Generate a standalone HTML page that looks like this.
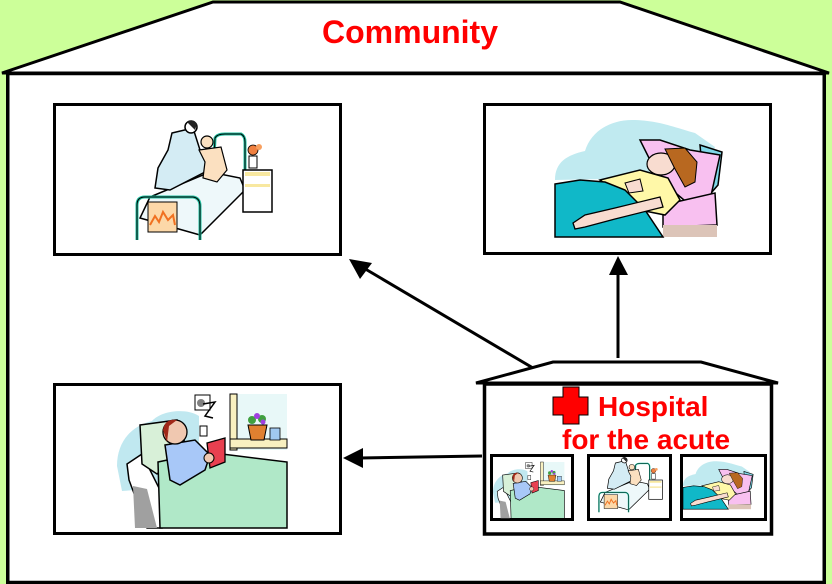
<!DOCTYPE html>
<html><head><meta charset="utf-8"><style>
html,body{margin:0;padding:0;background:#ccff99;}
svg{display:block;}
text{font-family:"Liberation Sans",Arial,sans-serif;font-weight:bold;fill:#ff0000;}
</style></head><body>
<svg width="832" height="584" viewBox="0 0 832 584" xmlns="http://www.w3.org/2000/svg">
<defs>
 <g id="doctor">
  <path d="M78,60 L80,18 Q82,14 90,14 L106,14 Q110,16 110,22 L110,58" fill="#fff" stroke="#20c0a0" stroke-width="3"/>
  <path d="M78,60 L80,18 Q82,14 90,14 L106,14 Q110,16 110,22 L110,58" fill="none" stroke="#000" stroke-width="1"/>
  <path d="M15,77 L75,52 L105,58 L110,70 L65,115 L5,98 Z" fill="#eef8fa" stroke="#000" stroke-width="1.5"/>
  <path d="M37,13 L58,8 L65,30 L80,45 L70,52 L35,70 L20,68 L23,48 L33,30 Z" fill="#d4ecf4" stroke="#000" stroke-width="1.5"/>
  <circle cx="56" cy="7" r="6" fill="#fff" stroke="#000" stroke-width="1.5"/>
  <path d="M52,2 Q58,-2 62,4 L60,10 Z" fill="#222"/>
  <circle cx="72" cy="22" r="6" fill="#fbe0c0" stroke="#000" stroke-width="1.2"/>
  <path d="M64,30 L86,27 L92,50 L82,62 L68,58 L70,42 Z" fill="#fbe0c0" stroke="#000" stroke-width="1.2"/>
  <path d="M2,120 L2,85 Q2,77 10,77 L58,77 Q65,78 65,86 L65,120" fill="none" stroke="#20c0a0" stroke-width="3"/>
  <path d="M2,120 L2,85 Q2,77 10,77 L58,77 Q65,78 65,86 L65,120" fill="none" stroke="#000" stroke-width="1"/>
  <rect x="13" y="82" width="29" height="30" fill="#fcd8a8" stroke="#000" stroke-width="1"/>
  <path d="M15,105 L20,96 L24,102 L28,92 L33,100 L38,95 L40,105" fill="none" stroke="#f07020" stroke-width="2"/>
  <rect x="108" y="50" width="29" height="42" fill="#fff" stroke="#000" stroke-width="1.5"/>
  <rect x="110" y="52" width="25" height="4" fill="#f8e8a0"/>
  <rect x="110" y="64" width="25" height="3" fill="#f8e8a0"/>
  <rect x="114" y="36" width="8" height="12" fill="#fff" stroke="#000" stroke-width="1"/>
  <circle cx="118" cy="30" r="5" fill="#f08040" stroke="#000" stroke-width="0.8"/>
  <circle cx="124" cy="27" r="3" fill="#f8a060"/>
 </g>
 <g id="woman">
  <path d="M0,63 C0,45 12,38 30,34 C36,14 56,2 80,3 C105,4 118,10 140,16 L160,30 L150,60 L0,63 Z" fill="#c0eaf0"/>
  <path d="M145,28 L167,35 L163,68 L150,83 Z" fill="#80d8e8" stroke="#000" stroke-width="1.5"/>
  <path d="M85,23 L105,23 L135,33 L165,38 L155,83 L135,88 L105,63 Z" fill="#f8c0f0" stroke="#000" stroke-width="1.5"/>
  <path d="M108,88 L160,76 L162,108 L108,110 Z" fill="#f8c0f0" stroke="#000" stroke-width="1.5"/>
  <rect x="108" y="108" width="54" height="12" fill="#dcc4b8"/>
  <path d="M45,63 L85,53 L113,61 L125,83 L110,98 L85,93 Z" fill="#fff8a8" stroke="#000" stroke-width="1.5"/>
  <ellipse cx="106" cy="47" rx="14" ry="11" fill="#f8dcd0" stroke="#000" stroke-width="1.2"/>
  <path d="M110,32 L130,31 L142,45 L140,65 L130,70 L120,52 Z" fill="#b86820" stroke="#000" stroke-width="1"/>
  <path d="M0,67 L25,63 L50,65 L70,73 L90,93 L108,120 L0,120 Z" fill="#10b8c8" stroke="#000" stroke-width="1.5"/>
  <path d="M18,106 L30,98 L60,91 L105,80 L108,90 L60,102 L30,110 L20,112 Z" fill="#f8dcd0" stroke="#000" stroke-width="1.3"/>
  <path d="M70,66 L85,62 L88,74 L74,76 Z" fill="#f8dcd0" stroke="#000" stroke-width="1"/>
 </g>
 <g id="man">
  <path d="M0,72 C0,48 14,32 35,27 C45,16 70,14 82,22 L82,92 L5,97 Z" fill="#c0e8f0"/>
  <rect x="113" y="0" width="57" height="56" fill="#e8f8f8"/>
  <rect x="113" y="0" width="7" height="56" fill="#f8f0c0" stroke="#000" stroke-width="1"/>
  <rect x="113" y="45" width="57" height="9" fill="#f8f0c0" stroke="#000" stroke-width="1"/>
  <path d="M131,31 L150,31 L147,46 L134,46 Z" fill="#e08030" stroke="#000" stroke-width="1"/>
  <circle cx="135" cy="26" r="4" fill="#40a040"/><circle cx="145" cy="25" r="4" fill="#40a040"/>
  <circle cx="140" cy="22" r="3" fill="#a040e0"/><circle cx="146" cy="28" r="2.5" fill="#a040e0"/>
  <rect x="153" y="34" width="10" height="12" fill="#a0c8f0" stroke="#000" stroke-width="0.8"/>
  <rect x="78" y="1" width="15" height="15" fill="#fff" stroke="#000" stroke-width="1"/>
  <circle cx="84" cy="9" r="4" fill="#808080"/>
  <path d="M86,10 L98,8 L88,22 L96,24" fill="none" stroke="#000" stroke-width="1.5"/>
  <rect x="83" y="32" width="7" height="10" fill="#fff" stroke="#000" stroke-width="1"/>
  <path d="M10,70 L25,60 L45,100 L45,134 L30,134 L12,86 Z" fill="#fff" stroke="#000" stroke-width="1.5"/>
  <path d="M16,92 L30,95 L40,134 L18,134 Z" fill="#a0a0a0"/>
  <path d="M23,31 L60,26 L70,55 L40,80 L25,70 Z" fill="#d8f0d8" stroke="#000" stroke-width="1.5"/>
  <path d="M41,68 L88,58 L113,61 L170,68 L170,134 L43,134 Z" fill="#b0e8c8" stroke="#000" stroke-width="1.5"/>
  <path d="M48,51 L78,46 L93,61 L88,76 L63,91 L53,86 Z" fill="#a8c8f8" stroke="#000" stroke-width="1.5"/>
  <circle cx="58" cy="38" r="12" fill="#f0c8b0" stroke="#000" stroke-width="1.3"/>
  <path d="M46,36 Q48,24 60,26 L52,32 L50,48 Z" fill="#a02818"/>
  <path d="M90,49 L108,44 L108,68 L93,74 Z" fill="#e84050" stroke="#000" stroke-width="1.3"/>
  <circle cx="92" cy="64" r="5" fill="#f0c8b0" stroke="#000" stroke-width="1"/>
 </g>
</defs>

<!-- roof -->
<polygon points="2,73 213,2 620,2 829,73" fill="#fff" stroke="#000" stroke-width="3" stroke-linejoin="miter"/>
<!-- body -->
<rect x="7.75" y="73.5" width="816.5" height="509" fill="#fff" stroke="#000" stroke-width="3.5"/>
<text x="410" y="43" font-size="32" text-anchor="middle">Community</text>

<!-- top-left box -->
<rect x="54.5" y="104.5" width="286" height="150" fill="#fff" stroke="#000" stroke-width="3"/>
<use href="#doctor" transform="translate(135,120)"/>
<!-- top-right box -->
<rect x="484.5" y="104.5" width="286" height="149" fill="#fff" stroke="#000" stroke-width="3"/>
<use href="#woman" transform="translate(555,117)"/>
<!-- bottom-left box -->
<rect x="54.5" y="384.5" width="286" height="149" fill="#fff" stroke="#000" stroke-width="3"/>
<use href="#man" transform="translate(117,394)"/>

<!-- arrows -->
<g stroke="#000" stroke-width="3" fill="none">
 <line x1="533" y1="368" x2="362" y2="267"/>
 <line x1="618" y1="358" x2="618" y2="272"/>
 <line x1="482" y1="456" x2="360" y2="458"/>
</g>
<polygon points="349,259 372,263 360,279" fill="#000"/>
<polygon points="618,256 609,275 628,275" fill="#000"/>
<polygon points="343,458 363,448 363,468" fill="#000"/>

<!-- hospital -->
<polygon points="476,383 553,362 701,362 778,383" fill="#fff" stroke="#000" stroke-width="3"/>
<rect x="484.5" y="384" width="287" height="150" fill="#fff" stroke="#000" stroke-width="3.5"/>
<path d="M563,387 L579,387 L579,397 L588,397 L588,415 L579,415 L579,424 L563,424 L563,415 L553,415 L553,397 L563,397 Z" fill="#ff0000" stroke="#000" stroke-width="1"/>
<text x="598" y="416" font-size="28">Hospital</text>
<text x="562" y="449" font-size="28">for the acute</text>

<rect x="491.5" y="455.5" width="81" height="64" fill="#fff" stroke="#000" stroke-width="3"/>
<use href="#man" transform="translate(493,462) scale(0.42)"/>
<rect x="588.5" y="455.5" width="82" height="64" fill="#fff" stroke="#000" stroke-width="3"/>
<use href="#doctor" transform="translate(598,457) scale(0.47,0.46)"/>
<rect x="681.5" y="455.5" width="84" height="64" fill="#fff" stroke="#000" stroke-width="3"/>
<use href="#woman" transform="translate(683,460) scale(0.42,0.41)"/>
</svg>
</body></html>
